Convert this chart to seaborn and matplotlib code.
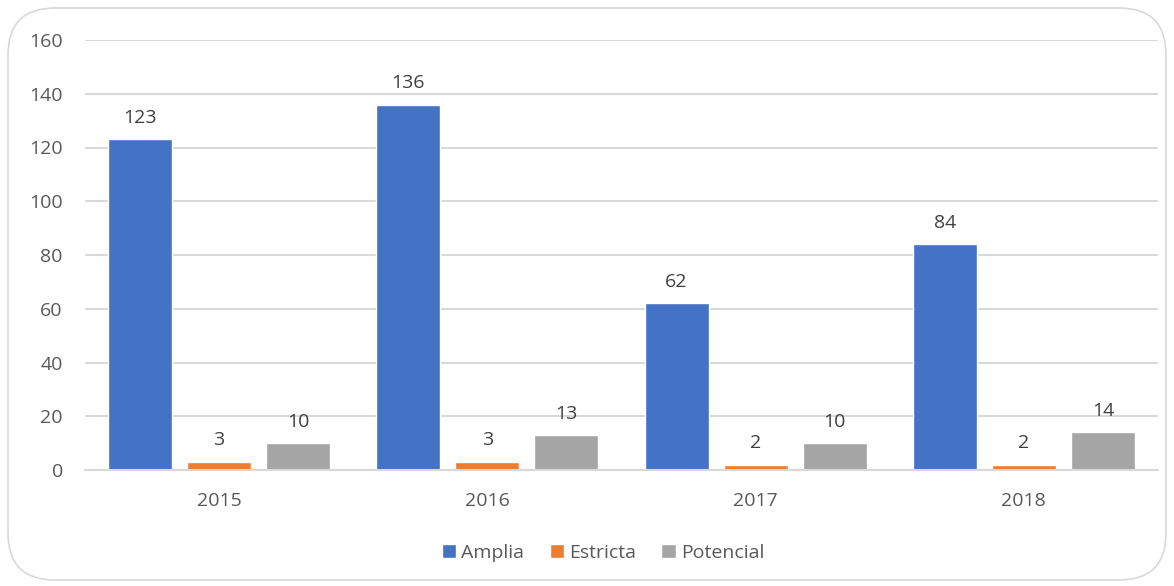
import matplotlib
matplotlib.use("Agg")
import matplotlib.pyplot as plt
from matplotlib.patches import FancyBboxPatch
import seaborn as sns
import pandas as pd

years = ["2015", "2016", "2017", "2018"]
amplia = [123, 136, 62, 84]
estricta = [3, 3, 2, 2]
potencial = [10, 13, 10, 14]
series_names = ["Amplia", "Estricta", "Potencial"]
colors = ["#4472C4", "#ED7D31", "#A5A5A5"]
y_ticks = [0, 20, 40, 60, 80, 100, 120, 140, 160]

df = pd.DataFrame({
    "Año": years * 3,
    "Serie": [series_names[0]] * 4 + [series_names[1]] * 4 + [series_names[2]] * 4,
    "Valor": amplia + estricta + potencial,
})

sns.set_theme(style="white")
plt.rcParams["font.family"] = ["Open Sans", "DejaVu Sans"]
text_color = "#595959"

fig = plt.figure(figsize=(11.74, 5.86), dpi=100)
ax = fig.add_axes([85 / 1174, 1 - 470 / 586, (1158 - 85) / 1174, (470 - 40) / 586])

sns.barplot(data=df, x="Año", y="Valor", hue="Serie", order=years,
            hue_order=series_names, palette=colors, width=0.884, gap=0.19,
            saturation=1, ax=ax, legend=True)

for container in ax.containers:
    ax.bar_label(container, fmt="%d", padding=9, fontsize=14, color="#404040")

ax.set_ylim(0, 160)
ax.set_xlim(-0.5, 3.5)
ax.set_yticks(y_ticks)
ax.set_yticklabels([str(t) for t in y_ticks])
ax.yaxis.grid(True, color="#D9D9D9", linewidth=1.5)
ax.set_axisbelow(True)
for side in ["top", "right", "left"]:
    ax.spines[side].set_visible(False)
ax.spines["bottom"].set_color("#D9D9D9")
ax.spines["bottom"].set_linewidth(1.5)
ax.tick_params(axis="both", length=0, labelsize=14, colors=text_color)
ax.tick_params(axis="x", pad=16)
ax.tick_params(axis="y", pad=16)
ax.set_xlabel("")
ax.set_ylabel("")

handles, labels = ax.get_legend_handles_labels()
ax.legend_.remove()
fig.legend(handles, labels, loc="center", bbox_to_anchor=(603 / 1174, 1 - 553 / 586),
           ncol=3, frameon=False, fontsize=14, labelcolor=text_color,
           handlelength=0.75, handleheight=0.75, handletextpad=0.25, columnspacing=1.3)

border = FancyBboxPatch((8 / 1174, 6 / 586), 1158 / 1174, 572 / 586,
                        boxstyle="round,pad=0,rounding_size=0.04",
                        transform=fig.transFigure, facecolor="none",
                        edgecolor="#D9D9D9", linewidth=1.2, mutation_aspect=1174 / 586)
fig.patches.append(border)

fig.savefig("out.png", dpi=100)
